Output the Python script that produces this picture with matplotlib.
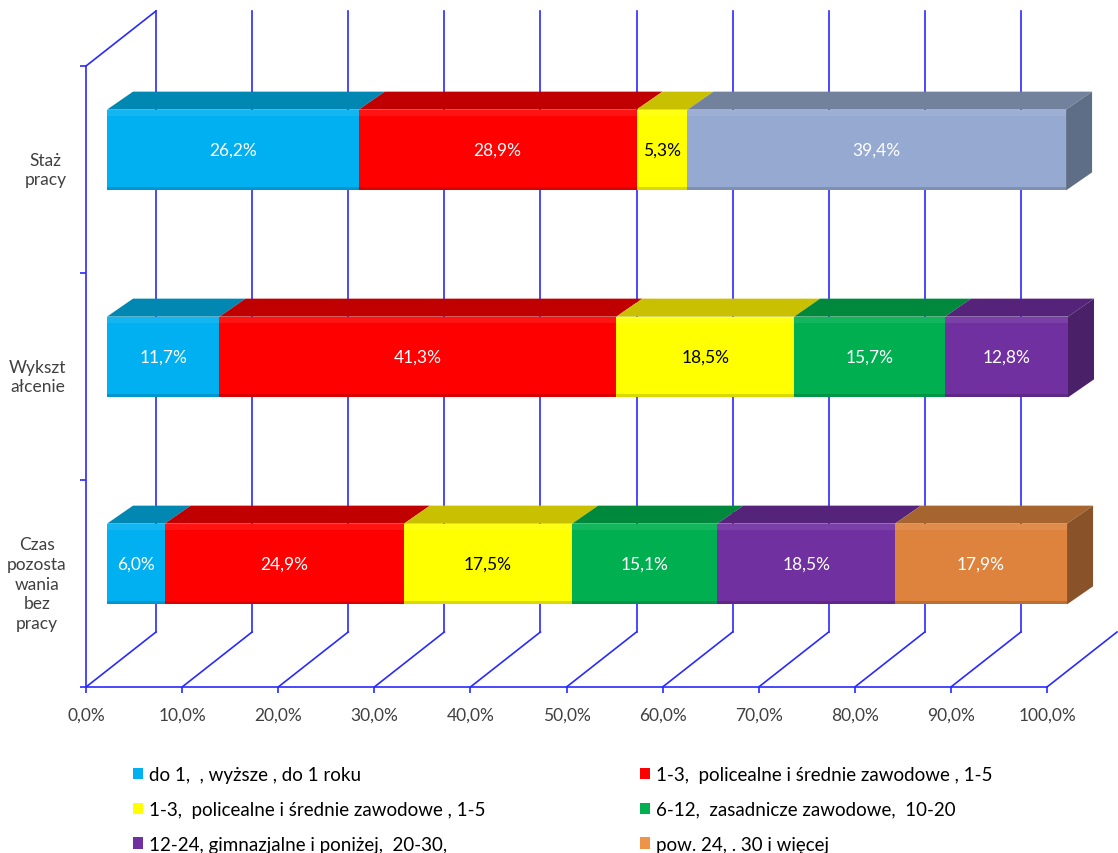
import numpy as np
import matplotlib
matplotlib.use('Agg')
import matplotlib.pyplot as plt
from matplotlib.patches import Polygon, Patch
from matplotlib.lines import Line2D
from matplotlib.transforms import IdentityTransform, offset_copy

plt.rcParams['font.family'] = ['Lato', 'DejaVu Sans']

# ---------------- data ----------------
categories = ['Czas\npozosta\nwania\nbez\npracy', 'Wykszt\nałcenie', 'Staż\npracy']
series_names = ['do 1,  , wyższe , do 1 roku',
                '1-3,  policealne i średnie zawodowe , 1-5',
                '1-3,  policealne i średnie zawodowe , 1-5',
                '6-12,  zasadnicze zawodowe,  10-20',
                '12-24, gimnazjalne i poniżej,  20-30,',
                'pow. 24, . 30 i więcej']
czas_values = [6.0, 24.9, 17.5, 15.1, 18.5, 17.9]
wyksztalcenie_values = [11.7, 41.3, 18.5, 15.7, 12.8]
staz_values = [26.2, 28.9, 5.3, 39.4]
czas_series = [0, 1, 2, 3, 4, 5]
wyksztalcenie_series = [0, 1, 2, 3, 4]
staz_series = [0, 1, 2, 6]
xtick_values = [0, 10, 20, 30, 40, 50, 60, 70, 80, 90, 100]

bars_values = [czas_values, wyksztalcenie_values, staz_values]
bars_series = [czas_series, wyksztalcenie_series, staz_series]

# ---------------- styles ----------------
front_colors = ['#00B0F0', '#FF0000', '#FFFF00', '#00B050', '#7030A0', '#DE833D', '#95A9D1']
top_colors = ['#0088B2', '#C00000', '#C8C000', '#00893D', '#55237A', '#A6652F', '#72829D']
side_colors = ['#007EA6', '#A80000', '#B0A800', '#00783A', '#4A2068', '#8A5228', '#5F6E87']
label_colors = ['white', 'white', 'black', 'white', 'white', 'white', 'white']
legend_colors = ['#00B0F0', '#FF0000', '#FFFF00', '#00B050', '#7030A0', '#EE9448']
grid_color = '#2A2AFF'
text_color = '#404040'

W, H = 1118, 854
fig = plt.figure(figsize=(W / 100, H / 100), dpi=100)
ax = fig.add_axes([86 / W, 166 / H, 961 / W, 621 / H])
ax.set_xlim(0, 100)
ax.set_ylim(0, 3)
ax.set_autoscale_on(False)
ax.patch.set_visible(False)
for s in ['top', 'right']:
    ax.spines[s].set_visible(False)
for s in ['left', 'bottom']:
    ax.spines[s].set_color(grid_color)
    ax.spines[s].set_linewidth(1.2)
    ax.spines[s].set_zorder(1)

ax.set_xticks(xtick_values)
ax.set_xticklabels([f"{v:.1f}%".replace('.', ',') for v in xtick_values])
ax.tick_params(axis='x', direction='out', length=4, width=1.2, color=grid_color,
               labelcolor=text_color, labelsize=12.5, pad=10)
ax.set_yticks([0.5, 1.5, 2.5])
ax.set_yticklabels(categories)
ax.set_yticks([0, 1, 2, 3], minor=True)
ax.tick_params(axis='y', which='major', length=0, labelcolor=text_color, labelsize=12.5, pad=14)
ax.tick_params(axis='y', which='minor', direction='out', length=4, width=1.2, color=grid_color)
for t in ax.get_yticklabels():
    t.set_multialignment('center')
    t.set_linespacing(1.3)
    t.set_va('center')

fig.canvas.draw()

DEPTH = np.array([70.0, 55.0])     # full depth of the 3-D box (pixels)
FRONT = np.array([21.0, 19.5])     # bar front face offset
BAR_D = np.array([26.0, 18.0])     # bar depth
BAR_H = 0.39


def proj(x, y, off):
    return ax.transData.transform((x, y)) + off


def line(p, q):
    ax.add_line(Line2D([p[0], q[0]], [p[1], q[1]], transform=IdentityTransform(),
                       color=grid_color, linewidth=1.2, zorder=1, clip_on=False))


zero = np.array([0.0, 0.0])
# back wall vertical gridlines and floor diagonals
for v in xtick_values:
    if v < 100:
        line(proj(v, 0, DEPTH), proj(v, 3, DEPTH))
    line(proj(v, 0, zero), proj(v, 0, DEPTH))
# left wall top edge
line(proj(0, 3, zero), proj(0, 3, DEPTH))


def poly(verts, color, z=3, alpha=1.0):
    ax.add_patch(Polygon(np.array(verts), closed=True, transform=IdentityTransform(),
                         facecolor=color, edgecolor='none', zorder=z, alpha=alpha,
                         clip_on=False))


front_tr = offset_copy(ax.transData, fig=fig, x=FRONT[0], y=FRONT[1], units='dots')
for i, (vals, sers) in enumerate(zip(bars_values, bars_series)):
    yc = i + 0.5
    yb, yt = yc - BAR_H / 2, yc + BAR_H / 2
    left = 0.0
    n = len(vals)
    for k, (v, s) in enumerate(zip(vals, sers)):
        x0, x1 = left, left + v
        # front face
        ax.barh(yc, v, left=x0, height=BAR_H, color=front_colors[s], transform=front_tr,
                zorder=3, clip_on=False)
        # soft highlight near the top and shade at the bottom
        hh = BAR_H * 0.08
        ax.barh(yt - hh / 2, v, left=x0, height=hh, color='white', alpha=0.08,
                transform=front_tr, zorder=3.5, clip_on=False)
        ax.barh(yb + hh / 4, v, left=x0, height=hh / 2, color='black', alpha=0.15,
                transform=front_tr, zorder=3.5, clip_on=False)
        # top face
        poly([proj(x0, yt, FRONT), proj(x1, yt, FRONT),
              proj(x1, yt, FRONT + BAR_D), proj(x0, yt, FRONT + BAR_D)], top_colors[s])
        if k == n - 1:
            poly([proj(x1, yb, FRONT), proj(x1, yb, FRONT + BAR_D),
                  proj(x1, yt, FRONT + BAR_D), proj(x1, yt, FRONT)], side_colors[s])
        ax.text((x0 + x1) / 2, yc, f"{v:.1f}%".replace('.', ','), transform=front_tr,
                ha='center', va='center', fontsize=12.5, color=label_colors[s], zorder=5,
                clip_on=False)
        left = x1

# legend in two columns
handles = [Patch(facecolor=c, edgecolor='none') for c in legend_colors]
kw = dict(frameon=False, fontsize=13.5, handlelength=0.55, handleheight=0.55,
          handletextpad=0.3, labelspacing=0.95, borderpad=0, borderaxespad=0,
          labelcolor='black')
fig.legend(handles[0::2], series_names[0::2], loc='upper left',
           bbox_to_anchor=(133 / W, 1 - 767 / H), **kw)
fig.legend(handles[1::2], series_names[1::2], loc='upper left',
           bbox_to_anchor=(640 / W, 1 - 767 / H), **kw)

fig.savefig('out.png', dpi=100)
